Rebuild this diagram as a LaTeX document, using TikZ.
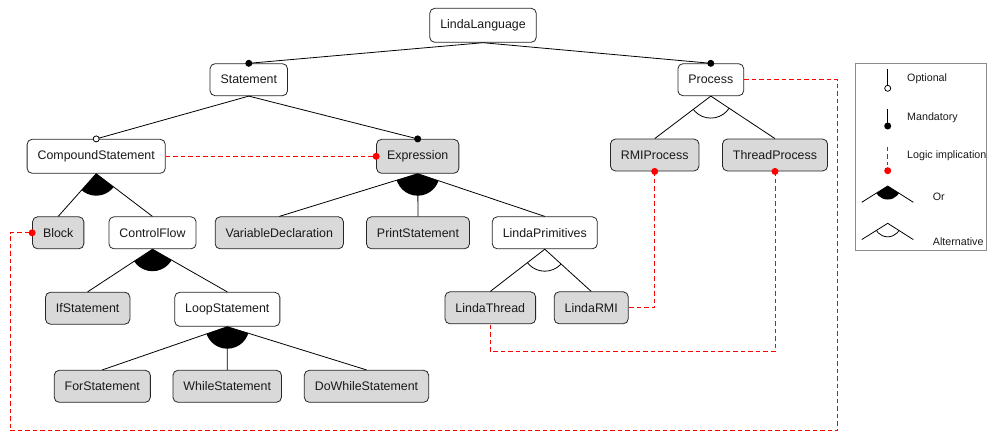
\documentclass[tikz,border=0pt]{standalone}
\usepackage{fontspec}
\setmainfont{Liberation Sans}
\begin{document}
\begin{tikzpicture}[x=1pt,y=-1pt,
  feat/.style={draw=black!85, line width=0.8pt, rounded corners=5pt, fill=white,
    inner xsep=10.5pt, inner ysep=0pt, minimum height=32pt,
    font=\fontsize{12.4}{14}\selectfont, text=black!90},
  gfeat/.style={feat, fill=black!15},
  tall/.style={minimum height=34pt},
  edge/.style={line width=0.8pt},
  impl/.style={red, line width=0.9pt, dash pattern=on 4.5pt off 3pt},
  lgd/.style={font=\fontsize{10.7}{12}\selectfont, anchor=west, inner sep=0pt, text=black!90}]
\useasboundingbox (0,0) rectangle (987,432);

% features
\node[feat,tall] (ll) at (483,25.3) {LindaLanguage};
\node[feat] (st) at (248.8,79.7) {Statement};
\node[feat] (pr) at (710.8,79.7) {Process};
\node[feat,tall] (cs) at (96.2,156.3) {CompoundStatement};
\node[gfeat,tall] (ex) at (417.7,156.3) {Expression};
\node[gfeat] (rp) at (654.7,155) {RMIProcess};
\node[gfeat] (tp) at (775,155) {ThreadProcess};
\node[gfeat] (bl) at (58.2,232.8) {Block};
\node[feat] (cf) at (152.5,232.8) {ControlFlow};
\node[gfeat] (vd) at (279.3,232.8) {VariableDeclaration};
\node[gfeat] (ps) at (418,232.8) {PrintStatement};
\node[feat] (lp) at (544.8,232.8) {LindaPrimitives};
\node[gfeat] (is) at (87.7,308.2) {IfStatement};
\node[feat,tall] (ls) at (227.3,309.3) {LoopStatement};
\node[gfeat] (lt) at (490.3,307.8) {LindaThread};
\node[gfeat] (lr) at (591.2,307.8) {LindaRMI};
\node[gfeat] (fs) at (102.3,386.3) {ForStatement};
\node[gfeat] (ws) at (227.2,386.3) {WhileStatement};
\node[gfeat] (dw) at (366.5,386.3) {DoWhileStatement};

% tree edges
\draw[edge] (ll.south) -- (st.north);
\draw[edge] (ll.south) -- (pr.north);
\fill (st.north) circle (3.5pt);
\fill (pr.north) circle (3.5pt);

\draw[edge] (st.south) -- (cs.north);
\draw[edge] (st.south) -- (ex.north);
\filldraw[fill=white, line width=0.8pt] (cs.north) circle (3pt);
\fill (ex.north) circle (3.5pt);

% Process alternative
\draw[edge] (pr.south) -- (rp.north);
\draw[edge] (pr.south) -- (tp.north);
\begin{scope}
  \clip (pr.south) -- (rp.north) -- (tp.north) -- cycle;
  \draw[edge] (pr.south) circle (22pt);
\end{scope}

% CompoundStatement or
\draw[edge] (cs.south) -- (bl.north);
\draw[edge] (cs.south) -- (cf.north);
\begin{scope}
  \clip (cs.south) -- (bl.north) -- (cf.north) -- cycle;
  \fill (cs.south) circle (22pt);
\end{scope}

% Expression or
\draw[edge] (ex.south) -- (vd.north);
\draw[edge] (ex.south) -- (ps.north);
\draw[edge] (ex.south) -- (lp.north);
\begin{scope}
  \clip (ex.south) -- (vd.north) -- (lp.north) -- cycle;
  \fill (ex.south) circle (22pt);
\end{scope}

% ControlFlow or
\draw[edge] (cf.south) -- (is.north);
\draw[edge] (cf.south) -- (ls.north);
\begin{scope}
  \clip (cf.south) -- (is.north) -- (ls.north) -- cycle;
  \fill (cf.south) circle (22pt);
\end{scope}

% LoopStatement or
\draw[edge] (ls.south) -- (fs.north);
\draw[edge] (ls.south) -- (ws.north);
\draw[edge] (ls.south) -- (dw.north);
\begin{scope}
  \clip (ls.south) -- (fs.north) -- (dw.north) -- cycle;
  \fill (ls.south) circle (22pt);
\end{scope}

% LindaPrimitives alternative
\draw[edge] (lp.south) -- (lt.north);
\draw[edge] (lp.south) -- (lr.north);
\begin{scope}
  \clip (lp.south) -- (lt.north) -- (lr.north) -- cycle;
  \draw[edge] (lp.south) circle (22pt);
\end{scope}

% logic implications
\draw[impl] (cs.east) -- (ex.west);
\fill[red] (ex.west) circle (3.5pt);

\coordinate (c1) at (837.7,430.7);
\coordinate (c2) at (10,430.7);
\draw[impl] (pr.east) -| (c1) -- (c2) |- (bl.west);
\fill[red] (bl.west) circle (3.5pt);

\draw[impl] (rp.south) |- (lr.east);
\fill[red] (rp.south) circle (3.5pt);

\coordinate (c3) at (0,351.7);
\draw[impl] (tp.south) -- (tp.south |- c3) -| (lt.south);
\fill[red] (tp.south) circle (3.5pt);

% legend
\draw[black!45, line width=0.8pt] (855,63.3) rectangle (986,250);

\draw[edge] (887.7,69) -- (887.7,85.3);
\filldraw[fill=white, line width=0.8pt] (887.7,88.3) circle (3pt);
\node[lgd] (lo) at (907,79) {Optional};

\draw[edge] (887.7,109) -- (887.7,123);
\fill (887.7,126) circle (3.5pt);
\node[lgd] (lm) at (907,118) {Mandatory};

\draw[impl] (887.7,146.7) -- (887.7,165);
\fill[red] (887.7,170.7) circle (3.5pt);
\node[lgd] (li) at (907,155.5) {Logic implication};

\begin{scope}
  \clip (887.7,186) -- (861.7,202.3) -- (913.3,202.3) -- cycle;
  \fill (887.7,186) circle (13.5pt);
\end{scope}
\draw[edge] (861.7,202.3) -- (887.7,186) -- (913.3,202.3);
\node[lgd] (lor) at (932.7,196.5) {Or};

\begin{scope}
  \clip (887.7,223.3) -- (861.7,239.6) -- (913.3,239.6) -- cycle;
  \draw[edge] (887.7,223.3) circle (13.5pt);
\end{scope}
\draw[edge] (861.7,239.6) -- (887.7,223.3) -- (913.3,239.6);
\node[lgd] (lal) at (932.7,241.5) {Alternative};
\end{tikzpicture}
\end{document}
